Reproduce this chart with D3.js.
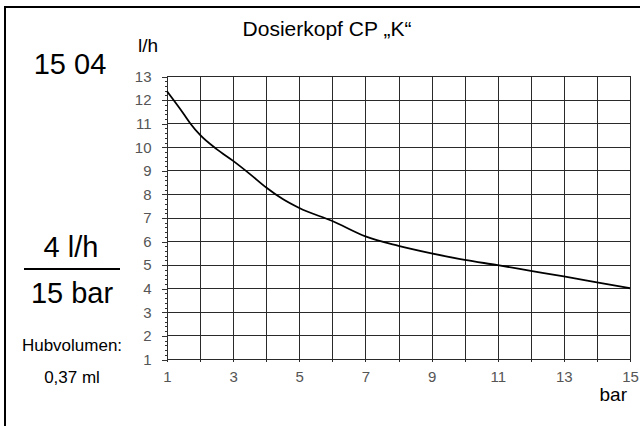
<!DOCTYPE html>
<html>
<head>
<meta charset="utf-8">
<script src="https://cdn.jsdelivr.net/npm/d3@7"></script>
<style>
  body { margin: 0; background: #fff; }
  svg { display: block; font-family: Arial, "Liberation Sans", sans-serif; }
</style>
</head>
<body>
<script>
// pressure (bar) vs. flow (l/h)
var pressure = [1, 1.5, 1.7, 2, 2.5, 3, 3.5, 4, 4.5, 5, 6, 7, 8, 9, 10, 11, 12, 13, 14, 15];
var flow = [12.35, 11.4, 11.0, 10.5, 9.9, 9.4, 8.85, 8.27, 7.78, 7.4, 6.85, 6.2, 5.8, 5.48, 5.2, 4.98, 4.74, 4.5, 4.25, 4.0];
var xTicks = [1, 3, 5, 7, 9, 11, 13, 15];
var yTicks = [1, 2, 3, 4, 5, 6, 7, 8, 9, 10, 11, 12, 13];
var title = "Dosierkopf CP \u201EK\u201C";
var sideText = { code: "15 04", rate: "4 l/h", press: "15 bar", hub: "Hubvolumen:", vol: "0,37 ml" };

var W = 640, H = 426;
var svg = d3.select("body").append("svg").attr("width", W).attr("height", H);

// outer frame (right / bottom edges fall outside the picture)
svg.append("rect")
    .attr("x", 5).attr("y", 7)
    .attr("width", 700).attr("height", 500)
    .attr("fill", "none").attr("stroke", "#000").attr("stroke-width", 2);

var x = d3.scaleLinear().domain([1, 15]).range([167, 630]);
var y = d3.scaleLinear().domain([1, 13]).range([359, 76]);

var grid = svg.append("g").attr("shape-rendering", "crispEdges");
grid.selectAll("line.v")
    .data(d3.range(1, 16))
    .enter().append("line")
    .attr("class", "v")
    .attr("x1", (d) => Math.round(x(d)) + 0.5).attr("x2", (d) => Math.round(x(d)) + 0.5)
    .attr("y1", y(13)).attr("y2", y(1) + 3)
    .attr("stroke", "#2a2a2a");
grid.selectAll("line.h")
    .data(yTicks)
    .enter().append("line")
    .attr("class", "h")
    .attr("x1", x(1)).attr("x2", x(15))
    .attr("y1", (d) => Math.round(y(d)) + 0.5).attr("y2", (d) => Math.round(y(d)) + 0.5)
    .attr("stroke", "#2a2a2a");

// y axis with minor ticks every 0.2
var yMinor = d3.axisLeft(y).tickValues(d3.range(1, 13.01, 0.2)).tickSize(3).tickFormat("");
var yMajor = d3.axisLeft(y).tickValues(yTicks).tickSize(6).tickPadding(10);
var gMinor = svg.append("g").attr("transform", "translate(" + (x(1) + 0.5) + ",0.5)").call(yMinor);
var gMajor = svg.append("g").attr("transform", "translate(" + (x(1) + 0.5) + ",0.5)").call(yMajor);
[gMinor, gMajor].forEach((g) => {
    g.select(".domain").remove();
    g.selectAll("line").attr("stroke", "#333").attr("shape-rendering", "crispEdges");
});
gMajor.selectAll("text")
    .attr("font-size", 15).attr("font-family", "Arial, 'Liberation Sans', sans-serif")
    .attr("fill", "#555");

var xAxis = d3.axisBottom(x).tickValues(xTicks).tickSize(0).tickPadding(12);
var gx = svg.append("g").attr("transform", "translate(0," + y(1) + ")").call(xAxis);
gx.select(".domain").remove();
gx.selectAll("text")
    .attr("font-size", 15).attr("font-family", "Arial, 'Liberation Sans', sans-serif")
    .attr("fill", "#555");

// curve
var line = d3.line()
    .x((d, i) => x(pressure[i]))
    .y((d) => y(d))
    .curve(d3.curveMonotoneX);
svg.append("path")
    .datum(flow)
    .attr("d", line)
    .attr("fill", "none")
    .attr("stroke", "#000")
    .attr("stroke-width", 1.8);

// texts
function label(txt, tx, ty, size, anchor) {
    return svg.append("text")
        .attr("x", tx).attr("y", ty)
        .attr("font-size", size)
        .attr("text-anchor", anchor || "middle")
        .attr("fill", "#000")
        .text(txt);
}
label(title, 327, 36, 21);
label("l/h", 148, 52, 19);
label("bar", 627, 401, 19, "end");
label(sideText.code, 70, 74, 29);
label(sideText.rate, 71, 257, 29);
svg.append("line")
    .attr("x1", 24).attr("x2", 120)
    .attr("y1", 269).attr("y2", 269)
    .attr("stroke", "#000").attr("stroke-width", 2);
label(sideText.press, 72, 303, 29);
label(sideText.hub, 72, 351, 17);
label(sideText.vol, 72, 383, 17);
</script>
</body>
</html>
